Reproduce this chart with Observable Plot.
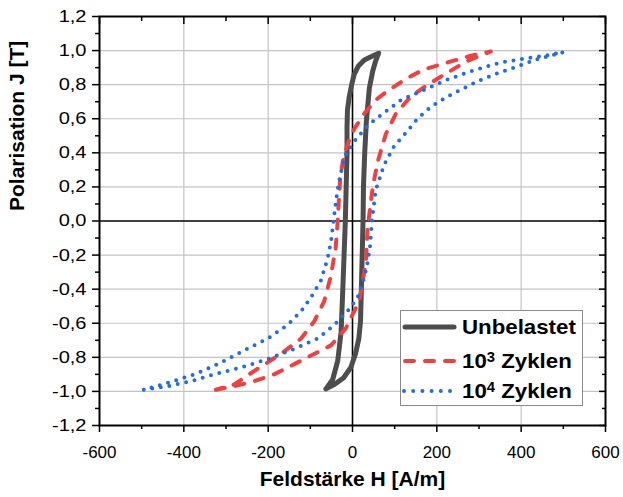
<!DOCTYPE html>
<html>
<head>
<meta charset="utf-8">
<script src="https://cdn.jsdelivr.net/npm/d3@7"></script>
<script src="https://cdn.jsdelivr.net/npm/@observablehq/plot@0.6"></script>
<style>
  body { margin: 0; background: #fff; }
  #wrap { position: relative; width: 623px; height: 497px; overflow: hidden; }
  #legend { position: absolute; left: 400px; top: 310px; width: 183px; height: 96px;
    border: 1px solid #8a8a8a; background: #fff; box-sizing: border-box;
    font-family: "Liberation Sans", Arial, sans-serif; font-weight: bold; font-size: 21px; color: #000; }
  .row { position: absolute; left: 0; height: 30px; width: 183px; }
  .row svg { position: absolute; left: 1px; top: 0; }
  .row .lbl { position: absolute; left: 61px; top: 0; line-height: 30px; white-space: nowrap;
    display: inline-block; transform: scaleX(1.06); transform-origin: left center; }
  .row sup { font-size: 14px; position: relative; top: -6px; vertical-align: baseline; }
</style>
</head>
<body>
<div id="wrap"></div>
<script>
// Tick values
const xMajor = [-600, -400, -200, 0, 200, 400, 600];
const xMinor = [-500, -300, -100, 100, 300, 500];
const yMajor = [-1.2, -1.0, -0.8, -0.6, -0.4, -0.2, 0, 0.2, 0.4, 0.6, 0.8, 1.0, 1.2];
const yMinor = [-1.1, -0.9, -0.7, -0.5, -0.3, -0.1, 0.1, 0.3, 0.5, 0.7, 0.9, 1.1];
const xGrid = [-400, -200, 200, 400];
const yGrid = [-1.0, -0.8, -0.6, -0.4, -0.2, 0.2, 0.4, 0.6, 0.8, 1.0];

// Series labels
const seriesNames = ["Unbelastet", "10³ Zyklen", "10⁴ Zyklen"];

// Unbelastet: ascending branch then descending branch (H in A/m, J in T)
const unbelastetH = [-63, -43, -21, -4, 7, 15, 19, 21, 23, 25, 26, 29, 33, 40, 48, 55, 62,
  45, 28, 14, 4, -2, -8, -12, -13, -13, -15, -17, -20, -23, -27, -35, -47, -63];
const unbelastetJ = [-0.985, -0.96, -0.92, -0.86, -0.78, -0.69, -0.59, -0.4, -0.2, 0, 0.2, 0.4, 0.59, 0.78, 0.88, 0.94, 0.985,
  0.965, 0.945, 0.91, 0.86, 0.80, 0.725, 0.65, 0.55, 0.4, 0.2, 0, -0.2, -0.4, -0.65, -0.82, -0.93, -0.985];

// 10^3 Zyklen
const zyklen3H = [-324, -281, -233, -186, -138, -91, -51, -16, 16, 32, 36, 40, 48, 60, 79, 103, 138, 178, 225, 273, 328,
  281, 225, 170, 131, 87, 55, 28, 4, -12, -23, -29, -32, -35, -40, -52, -67, -91, -122, -170, -233, -281, -324];
const zyklen3J = [-0.99, -0.97, -0.94, -0.90, -0.84, -0.78, -0.73, -0.63, -0.47, -0.24, -0.03, 0.04, 0.2, 0.35, 0.51, 0.63, 0.73, 0.80, 0.87, 0.94, 0.995,
  0.97, 0.93, 0.89, 0.84, 0.77, 0.71, 0.63, 0.54, 0.45, 0.35, 0.25, 0.14, 0, -0.16, -0.33, -0.47, -0.59, -0.69, -0.78, -0.88, -0.96, -0.99];

// 10^4 Zyklen
const zyklen4H = [-495, -438, -383, -328, -265, -201, -138, -83, -43, -12, 12, 28, 36, 42, 46, 55, 75, 99, 131, 154, 186, 225, 265, 297, 336, 383, 439, 500,
  455, 400, 352, 289, 225, 170, 115, 67, 36, 8, -16, -25, -33, -39, -45, -51, -59, -75, -99, -122, -154, -201, -257, -320, -375, -438, -495];
const zyklen4J = [-0.99, -0.97, -0.94, -0.90, -0.86, -0.81, -0.75, -0.69, -0.61, -0.53, -0.45, -0.33, -0.24, -0.14, 0, 0.18, 0.33, 0.44, 0.53, 0.60, 0.67, 0.73, 0.78, 0.82, 0.86, 0.90, 0.95, 0.99,
  0.97, 0.95, 0.93, 0.886, 0.83, 0.77, 0.71, 0.62, 0.56, 0.48, 0.39, 0.31, 0.22, 0.12, 0, -0.12, -0.22, -0.35, -0.45, -0.53, -0.61, -0.69, -0.76, -0.84, -0.90, -0.95, -0.99];

const colors = ["#4d4d4d", "#f04141", "#1f6fe3"];

const loc = d3.formatLocale({decimal: ",", thousands: ".", grouping: [3], currency: ["", ""], minus: "-"});
const fx = loc.format("d");
const fy = loc.format(".1f");
const blank = () => "";

const series = (H, J) => ({length: H.length});

const chart = Plot.plot({
  width: 623,
  height: 497,
  marginLeft: 99,
  marginRight: 18,
  marginTop: 16,
  marginBottom: 72,
  x: {domain: [-600, 600]},
  y: {domain: [-1.2, 1.2]},
  style: {fontFamily: "'Liberation Sans', Arial, sans-serif", fontSize: "17px", color: "#000", background: "#fff", overflow: "visible"},
  marks: [
    Plot.gridX(xGrid, {stroke: "#c4c4c4", strokeOpacity: 1, strokeWidth: 1.2}),
    Plot.gridY(yGrid, {stroke: "#c4c4c4", strokeOpacity: 1, strokeWidth: 1.2}),
    Plot.ruleX([0], {stroke: "#000", strokeWidth: 1.6}),
    Plot.ruleY([0], {stroke: "#000", strokeWidth: 1.6}),
    Plot.line(series(unbelastetH, unbelastetJ), {x: unbelastetH, y: unbelastetJ, stroke: colors[0], strokeWidth: 5, strokeLinejoin: "round", strokeLinecap: "round"}),
    Plot.line(series(zyklen3H, zyklen3J), {x: zyklen3H, y: zyklen3J, stroke: colors[1], strokeWidth: 4, strokeDasharray: "9,11", strokeLinecap: "round", strokeLinejoin: "round"}),
    Plot.line(series(zyklen4H, zyklen4J), {x: zyklen4H, y: zyklen4J, stroke: colors[2], strokeWidth: 4, strokeDasharray: "0,8.6", strokeLinecap: "round", strokeLinejoin: "round"}),
    Plot.frame({stroke: "#000", strokeWidth: 2}),
    Plot.axisX(xMajor, {anchor: "bottom", tickSize: 7, tickPadding: 13, tickFormat: fx, strokeWidth: 1.5, label: null, ariaLabel: "x-axis tick label"}),
    Plot.axisX(xMinor, {anchor: "bottom", tickSize: 4, tickFormat: blank, strokeWidth: 1.5, label: null}),
    Plot.axisX(xMajor, {anchor: "top", tickSize: -7, tickFormat: blank, strokeWidth: 1.5, label: null}),
    Plot.axisX(xMinor, {anchor: "top", tickSize: -4, tickFormat: blank, strokeWidth: 1.5, label: null}),
    Plot.axisY(yMajor, {anchor: "left", tickSize: 7, tickPadding: 6, tickFormat: fy, strokeWidth: 1.5, label: null}),
    Plot.axisY(yMinor, {anchor: "left", tickSize: 4, tickFormat: blank, strokeWidth: 1.5, label: null}),
    Plot.axisY(yMajor, {anchor: "right", tickSize: -7, tickFormat: blank, strokeWidth: 1.5, label: null}),
    Plot.axisY(yMinor, {anchor: "right", tickSize: -4, tickFormat: blank, strokeWidth: 1.5, label: null}),
    Plot.text(["Feldstärke H [A/m]"], {frameAnchor: "bottom", dy: 54, text: d => d, fontWeight: "bold", fontSize: 21, lineAnchor: "middle", fill: "#000", ariaLabel: "xlabel"}),
    Plot.text(["Polarisation J [T]"], {frameAnchor: "left", dx: -82, dy: -10, rotate: -90, text: d => d, fontWeight: "bold", fontSize: 21, lineAnchor: "middle", fill: "#000", ariaLabel: "ylabel"})
  ]
});

document.getElementById("wrap").appendChild(chart);

// Slightly widen text glyphs to match the reference typography
function stretch(sel, s) {
  chart.querySelectorAll(sel).forEach(t => {
    const tr = t.getAttribute("transform");
    if (tr) {
      t.setAttribute("transform", tr + ` scale(${s},1)`);
    } else {
      const x = +(t.getAttribute("x") || 0), y = +(t.getAttribute("y") || 0);
      t.removeAttribute("x"); t.removeAttribute("y");
      t.setAttribute("transform", `translate(${x},${y}) scale(${s},1)`);
    }
  });
}
stretch('[aria-label="x-axis tick label"] text', 1.18);
stretch('[aria-label="y-axis tick label"] text', 1.18);
stretch('[aria-label="xlabel"] text', 1.08);
stretch('[aria-label="ylabel"] text', 1.08);

// Legend (HTML overlay inside the plot frame)
const legend = document.createElement("div");
legend.id = "legend";
const rowTops = [1, 34.5, 65];
const samples = [
  `<line x1="3" x2="52" y1="15" y2="15" stroke="${colors[0]}" stroke-width="5" stroke-linecap="round"/>`,
  `<line x1="3" x2="53" y1="15" y2="15" stroke="${colors[1]}" stroke-width="4" stroke-dasharray="9,11" stroke-linecap="round"/>`,
  `<line x1="2" x2="50" y1="15" y2="15" stroke="${colors[2]}" stroke-width="4" stroke-dasharray="0,9.2" stroke-linecap="round"/>`
];
const labelsHtml = ["Unbelastet", "10<sup>3</sup> Zyklen", "10<sup>4</sup> Zyklen"];
seriesNames.forEach((name, i) => {
  const row = document.createElement("div");
  row.className = "row";
  row.style.top = rowTops[i] + "px";
  row.innerHTML = `<svg width="56" height="30">${samples[i]}</svg><span class="lbl" title="${name}">${labelsHtml[i]}</span>`;
  legend.appendChild(row);
});
document.getElementById("wrap").appendChild(legend);
</script>
</body>
</html>
